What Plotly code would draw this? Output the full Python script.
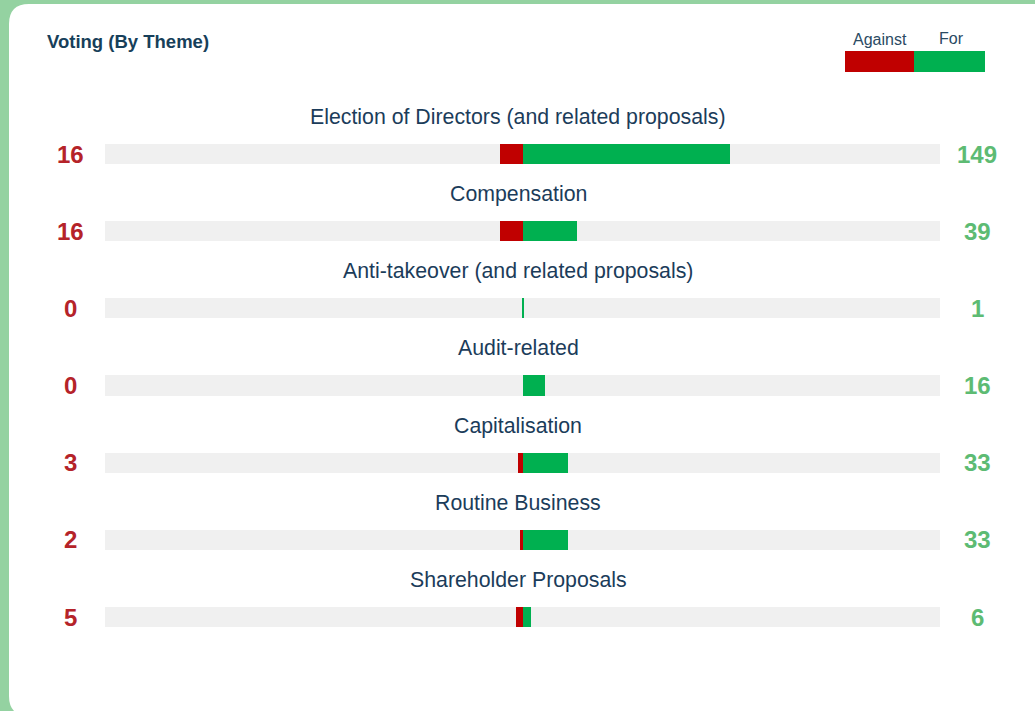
import plotly.graph_objects as go

categories = [
    "Election of Directors (and related proposals)",
    "Compensation",
    "Anti-takeover (and related proposals)",
    "Audit-related",
    "Capitalisation",
    "Routine Business",
    "Shareholder Proposals",
]
against_votes = [16, 16, 0, 0, 3, 2, 5]
for_votes = [149, 39, 1, 16, 33, 33, 6]
axis_max = 300

W, H = 1035, 711
RED = "#c00000"
GREEN = "#00b050"
TRACK = "#f0f0f0"
NUM_RED = "#b52329"
NUM_GREEN = "#5dbb73"
TEXT = "#1b3c5a"
FONT = "Liberation Sans, Arial, sans-serif"

rows = [-i for i in range(len(categories))]
bar_w = 0.26

fig = go.Figure()
fig.add_trace(go.Bar(
    y=rows, x=[2 * axis_max] * len(rows), base=[-axis_max] * len(rows),
    orientation="h", width=bar_w, marker=dict(color=TRACK, line=dict(width=0)),
    hoverinfo="skip", showlegend=False))
fig.add_trace(go.Bar(
    y=rows, x=against_votes, base=[-v for v in against_votes],
    orientation="h", width=bar_w, marker=dict(color=RED, line=dict(width=0)),
    name="Against", showlegend=False))
fig.add_trace(go.Bar(
    y=rows, x=for_votes, base=[0] * len(rows),
    orientation="h", width=bar_w, marker=dict(color=GREEN, line=dict(width=0)),
    name="For", showlegend=False))

def px(x):
    return x / W

def py(y):
    return 1 - y / H

annotations = []
for r, cat, a, f in zip(rows, categories, against_votes, for_votes):
    annotations.append(dict(x=px(518), y=r + 0.48, xref="paper", yref="y", text=cat,
                            showarrow=False, font=dict(family=FONT, size=21.3, color=TEXT),
                            xanchor="center", yanchor="middle"))
    annotations.append(dict(x=px(70), y=r, xref="paper", yref="y", text=f"<b>{a}</b>",
                            showarrow=False, font=dict(family=FONT, size=24, color=NUM_RED),
                            xanchor="center", yanchor="middle"))
    annotations.append(dict(x=px(977), y=r, xref="paper", yref="y", text=f"<b>{f}</b>",
                            showarrow=False, font=dict(family=FONT, size=24, color=NUM_GREEN),
                            xanchor="center", yanchor="middle"))

annotations.append(dict(x=px(45), y=py(42), xref="paper", yref="paper",
                        text="<b>Voting (By Theme)</b>", showarrow=False,
                        font=dict(family=FONT, size=18.5, color="#173f5a"),
                        xanchor="left", yanchor="middle"))
annotations.append(dict(x=px(880), y=py(39), xref="paper", yref="paper",
                        text="Against", showarrow=False,
                        font=dict(family=FONT, size=16, color="#2a4a63"),
                        xanchor="center", yanchor="middle"))
annotations.append(dict(x=px(951), y=py(38), xref="paper", yref="paper",
                        text="For", showarrow=False,
                        font=dict(family=FONT, size=16, color="#2a4a63"),
                        xanchor="center", yanchor="middle"))

# card background (rounded white panel)
L, T, R, B, rad = 9, 4, 1045, 716, 20
path = (f"M {px(L)},{py(T + rad)} Q {px(L)},{py(T)} {px(L + rad)},{py(T)} "
        f"L {px(R)},{py(T)} L {px(R)},{py(B)} L {px(L + rad)},{py(B)} "
        f"Q {px(L)},{py(B)} {px(L)},{py(B - rad)} Z")
shapes = [
    dict(type="path", path=path, xref="paper", yref="paper",
         fillcolor="white", line=dict(width=0), layer="below"),
    dict(type="rect", xref="paper", yref="paper", x0=px(845), x1=px(914),
         y0=py(72), y1=py(51), fillcolor=RED, line=dict(width=0)),
    dict(type="rect", xref="paper", yref="paper", x0=px(914), x1=px(985),
         y0=py(72), y1=py(51), fillcolor=GREEN, line=dict(width=0)),
]

y_top = 154 / 77.17
y_bot = -(H - 154) / 77.17

fig.update_layout(
    width=W, height=H, autosize=False,
    margin=dict(l=0, r=0, t=0, b=0, pad=0),
    paper_bgcolor="#94d2a1", plot_bgcolor="rgba(0,0,0,0)",
    barmode="overlay", bargap=0,
    xaxis=dict(domain=[px(105), px(940)], range=[-axis_max, axis_max],
               visible=False, fixedrange=True),
    yaxis=dict(domain=[0, 1], range=[y_bot, y_top], visible=False, fixedrange=True),
    annotations=annotations, shapes=shapes,
    showlegend=False,
)

fig.write_html("out.html", config={"displayModeBar": False},
               post_script="document.body.style.margin='0';document.body.style.overflow='hidden';")
